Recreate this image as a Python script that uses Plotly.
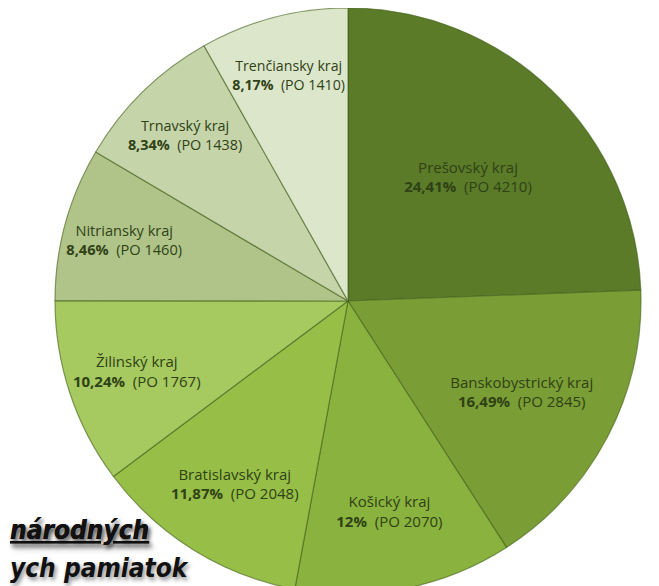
import plotly.graph_objects as go

regions = ["Prešovský kraj", "Banskobystrický kraj", "Košický kraj", "Bratislavský kraj",
           "Žilinský kraj", "Nitriansky kraj", "Trnavský kraj", "Trenčiansky kraj"]
counts = [4210, 2845, 2070, 2048, 1767, 1460, 1438, 1410]
pct_labels = ["24,41%", "16,49%", "12%", "11,87%", "10,24%", "8,46%", "8,34%", "8,17%"]
colors = ["#5b7b29", "#7a9d35", "#8ab23e", "#97bf48", "#a6c960", "#b0c489", "#c6d4a9", "#dce6cb"]
title_line1 = "národných"
title_line2 = "ych pamiatok"

text = [f"{r}<br><b>{p}</b>&nbsp; (PO {c})" for r, p, c in zip(regions, pct_labels, counts)]

W, H = 659, 586
cx, cy, R = 340, 293, 293

fig = go.Figure(go.Pie(
    labels=regions,
    values=counts,
    text=text,
    textinfo="text",
    textposition="inside",
    insidetextorientation="horizontal",
    sort=False,
    direction="clockwise",
    rotation=0,
    marker=dict(colors=colors, line=dict(color="rgba(65,95,25,0.6)", width=1.2)),
    textfont=dict(family="Open Sans", size=15, color="#2f4216"),
    domain=dict(x=[(cx - R) / W, (cx + R) / W], y=[0, 1]),
    hoverinfo="label+value",
))

title_font = dict(family="DejaVu Sans Condensed, DejaVu Sans, sans-serif",
                  size=26, color="#111111", weight="bold", style="italic",
                  shadow="2px 3px 4px rgba(0,0,0,0.45)")

fig.add_annotation(text=title_line1, xref="paper", yref="paper", x=0, y=(H - 522) / H,
                   xanchor="left", yanchor="middle", showarrow=False,
                   font=dict(**title_font, lineposition="under"))
fig.add_annotation(text=title_line2, xref="paper", yref="paper", x=0, y=9 / H,
                   xanchor="left", yanchor="bottom", showarrow=False,
                   font=title_font)

fig.update_layout(
    width=W, height=H,
    margin=dict(l=0, r=0, t=0, b=0),
    paper_bgcolor="white",
    plot_bgcolor="white",
    showlegend=False,
)

fig.write_html("out.html")
